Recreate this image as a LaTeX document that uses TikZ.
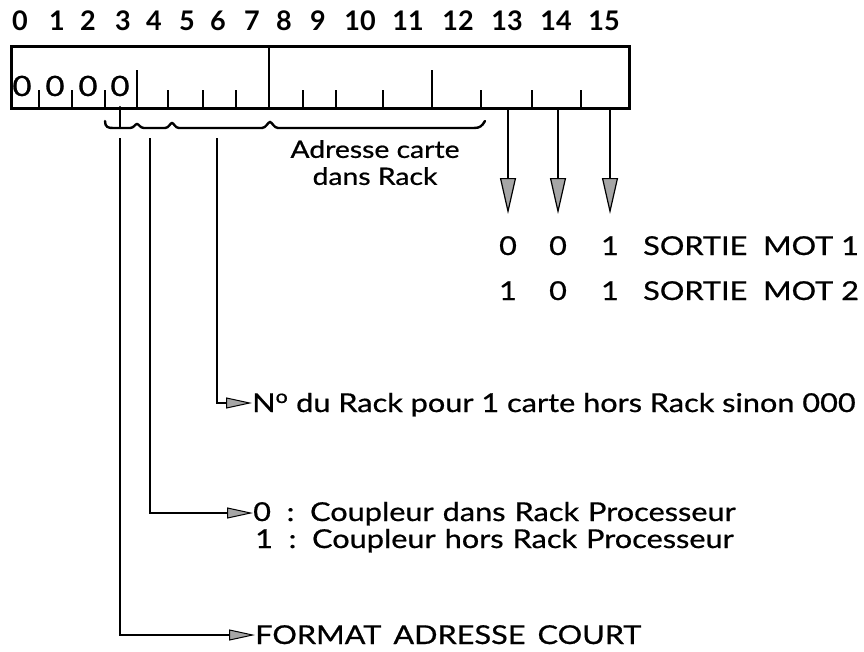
\documentclass[tikz,border=0pt]{standalone}
\usepackage{fontspec}
\setmainfont{Lato}
\newfontfamily\labfont{Lato}[FakeBold=0.7,FakeStretch=1.18]
\usetikzlibrary{arrows.meta}
\begin{document}
\begin{tikzpicture}[x=1pt,y=-1pt,
  txt/.style={font=\labfont\fontsize{26}{30}\selectfont, inner sep=0pt, anchor=base west},
  num/.style={font=\labfont\fontsize{26}{30}\selectfont, inner sep=0pt, anchor=base},
  bit/.style={font=\bfseries\fontsize{27}{30}\selectfont, inner sep=0pt, anchor=base},
  tick/.style={line width=2pt},
  dn/.style={line width=2.2pt, -{Triangle[length=36pt,width=16pt,fill=gray!70,line width=1.2pt]}},
  rt/.style={line width=1.8pt, -{Triangle[length=26pt,width=11pt,fill=gray!70,line width=1pt]}}]
\useasboundingbox (0,0) rectangle (864,651);
% bit numbers
\foreach \n/\x in {0/20,1/57,2/88,3/123,4/154,5/187,6/218,7/252,8/284,9/318,10/360,11/408,12/458,13/507,14/556,15/604}
  \node[bit] (h\n) at (\x,30) {\n};
% register box
\node[draw, line width=2.8pt, minimum width=618pt, minimum height=62pt, inner sep=0pt, anchor=north west] (reg) at (10,45) {};
\draw[line width=2.6pt] (reg.north west -| 269,0) -- (reg.south west -| 269,0);
\foreach \x in {39,72,105,168,203,236,303,336,383,481,532,581}
  \draw[tick] (\x,107) -- (\x,90);
\foreach \x in {137,432}
  \draw[tick] (\x,107) -- (\x,70);
\foreach \x [count=\i] in {22,55,88,120}
  \node[num, font=\labfont\fontsize{28}{30}\selectfont] (z\i) at (\x,96) {0};
% brace
\draw[line width=2.4pt, line cap=round] (120,107) -- (120,128);
\draw[line width=2.4pt, line cap=round]
  (105,121) .. controls (105,127) and (108,128) .. (113,128) -- (130,128)
  .. controls (134,128) and (135,124) .. (137,124) .. controls (139,124) and (140,128) .. (144,128)
  -- (165,128) .. controls (169,128) and (170,123) .. (172,123) .. controls (174,123) and (175,128) .. (179,128)
  -- (262,128) .. controls (266,128) and (268,122) .. (270,122) .. controls (272,122) and (274,128) .. (278,128)
  -- (474,128) .. controls (480,128) and (482,126) .. (485,121);
% annotation
\node[font=\labfont\fontsize{24}{27}\selectfont, inner sep=0pt, align=center, anchor=north] (adr) at (375,140) {Adresse carte\\dans Rack};
% output arrows
\coordinate (o13) at (508,107);
\coordinate (o14) at (558,107);
\coordinate (o15) at (610,107);
\coordinate (e13) at (508,214);
\coordinate (e14) at (558,214);
\coordinate (e15) at (610,214);
\draw[dn] (o13) -- (e13);
\draw[dn] (o14) -- (e14);
\draw[dn] (o15) -- (e15);
\node[num] (r1a) at (508,255) {0};
\node[num] (r1b) at (558,255) {0};
\node[num] (r1c) at (610,255) {1};
\node[txt] (r1t) at (643,255) {SORTIE\ \ MOT 1};
\node[num] (r2a) at (508,300) {1};
\node[num] (r2b) at (558,300) {0};
\node[num] (r2c) at (610,300) {1};
\node[txt] (r2t) at (643,300) {SORTIE\ \ MOT 2};
% labels
\node[txt] (rack) at (252,412) {N\textsuperscript{o} du Rack pour 1 carte hors Rack sinon 000};
\node[txt] (c0) at (253,521) {0\ \ :\ \ Coupleur\hspace{9pt}dans\hspace{9pt}Rack\hspace{9pt}Processeur};
\node[txt] (c1) at (255,548) {1\ \ :\ \ Coupleur\hspace{9pt}hors\hspace{9pt}Rack\hspace{9pt}Processeur};
\node[txt] (fmt) at (255,644) {FORMAT\hspace{12pt}ADRESSE\hspace{12pt}COURT};
% leader lines
\coordinate (s3) at (120,138);
\coordinate (s4) at (150,138);
\coordinate (s6) at (217,138);
\draw[rt] (s6) |- (rack.west |- 0,403);
\draw[rt] (s4) |- (c0.west |- 0,513);
\draw[rt] (s3) |- (fmt.west |- 0,635);
\end{tikzpicture}
\end{document}
